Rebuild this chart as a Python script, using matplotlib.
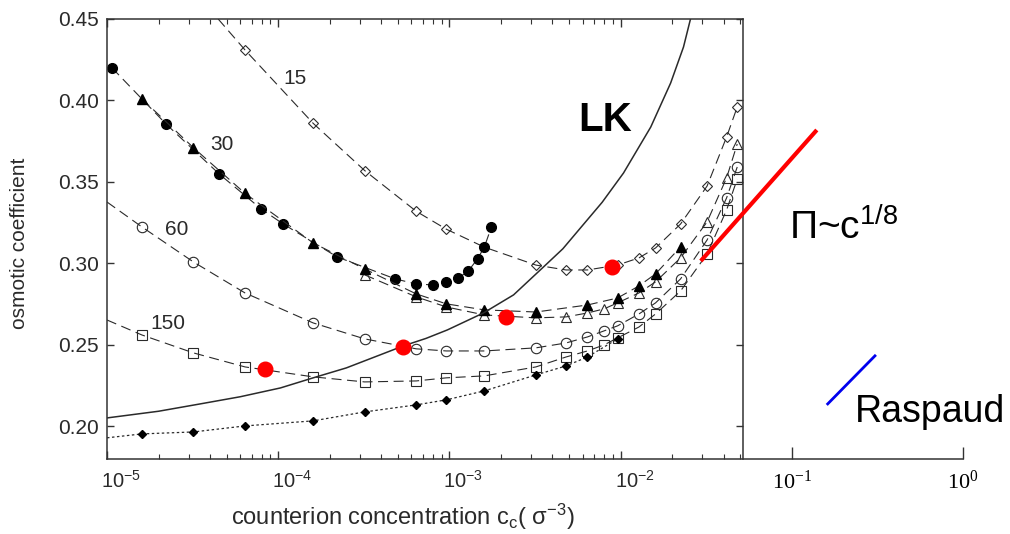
import matplotlib.pyplot as plt
import matplotlib.transforms as mtransforms
import numpy as np

# dados ----------------------------------------------------------------------------
# concentracoes comuns das simulacoes
c_grid = [1.6e-5, 3.2e-5, 6.4e-5, 1.6e-4, 3.2e-4, 6.4e-4, 9.6e-4, 1.6e-3, 3.2e-3, 4.8e-3,
          6.4e-3, 8.0e-3, 9.6e-3, 1.28e-2, 1.6e-2, 2.24e-2, 3.2e-2, 4.16e-2, 4.8e-2]

# 150 (quadrados)
phi_150 = [0.2561, 0.2451, 0.2365, 0.2304, 0.2273, 0.2279, 0.2298, 0.2310, 0.2365, 0.2426,
           0.2463, 0.2500, 0.2543, 0.2610, 0.2690, 0.2831, 0.3058, 0.3328, 0.3518]
# 60 (circulos abertos)
phi_60 = [0.3224, 0.3009, 0.2819, 0.2635, 0.2537, 0.2476, 0.2463, 0.2463, 0.2482, 0.2512,
          0.2549, 0.2586, 0.2617, 0.2690, 0.2758, 0.2905, 0.3144, 0.3402, 0.3592]

# 15 (losangos abertos)
c_15 = [6.4e-5, 1.6e-4, 3.2e-4, 6.4e-4, 9.6e-4, 1.6e-3, 3.2e-3, 4.8e-3, 6.4e-3, 9.6e-3,
        1.28e-2, 1.6e-2, 2.24e-2, 3.2e-2, 4.16e-2, 4.8e-2]
phi_15 = [0.431, 0.386, 0.357, 0.332, 0.321, 0.310, 0.299, 0.296, 0.296, 0.299,
          0.3034, 0.3095, 0.3242, 0.3475, 0.3776, 0.396]

# 30 (circulos cheios)
c_30a = [1.07e-5, 2.21e-5, 4.52e-5, 7.96e-5, 1.07e-4, 2.21e-4, 4.83e-4, 6.41e-4, 8.05e-4,
         9.6e-4, 1.13e-3, 1.29e-3, 1.46e-3, 1.6e-3, 1.76e-3]
phi_30a = [0.420, 0.3856, 0.3549, 0.3334, 0.3242, 0.304, 0.2905, 0.2874, 0.2868,
           0.2887, 0.2911, 0.2954, 0.3028, 0.3101, 0.3224]

# 30 (triangulos cheios)
c_30b = [1.6e-5, 3.2e-5, 6.4e-5, 1.6e-4, 3.2e-4, 6.4e-4, 9.6e-4, 1.6e-3, 3.2e-3, 6.4e-3,
         9.6e-3, 1.28e-2, 1.6e-2, 2.24e-2]
phi_30b = [0.401, 0.371, 0.343, 0.3126, 0.2966, 0.2813, 0.2752, 0.2715, 0.2702, 0.2745,
           0.2788, 0.2862, 0.2936, 0.3101]

# 30 (triangulos abertos)
c_30c = [3.2e-4, 6.4e-4, 9.6e-4, 1.6e-3, 3.2e-3, 4.8e-3, 6.4e-3, 8.0e-3, 9.6e-3, 1.28e-2,
         1.6e-2, 2.24e-2, 3.2e-2, 4.16e-2, 4.8e-2]
phi_30c = [0.293, 0.2795, 0.2733, 0.2684, 0.2666, 0.2672, 0.2696, 0.2721, 0.2758, 0.2819,
           0.2887, 0.3034, 0.3255, 0.3525, 0.3733]

# losangos cheios (pontilhado)
c_fd = [1.6e-5, 3.2e-5, 6.4e-5, 1.6e-4, 3.2e-4, 6.4e-4, 9.6e-4, 1.6e-3, 3.2e-3, 4.8e-3,
        6.4e-3, 9.6e-3]
phi_fd = [0.1954, 0.1966, 0.2003, 0.2034, 0.2089, 0.2132, 0.2163, 0.2218, 0.2316, 0.2371,
          0.2426, 0.2537]

# inicio das curvas na borda esquerda / superior
c_start = [1e-5, 1e-5, 1e-5, 4.46e-5]
phi_start = [0.2653, 0.3377, 0.193, 0.45]   # 150, 60, pontilhado, 15

# curva LK
c_lk = [1e-5, 2.0e-5, 3.5e-5, 6.0e-5, 1.03e-4, 1.6e-4, 2.5e-4, 3.94e-4, 5.38e-4, 7.3e-4,
        9.73e-4, 1.58e-3, 2.37e-3, 3.55e-3, 4.6e-3, 5.83e-3, 7.8e-3, 1.04e-2, 1.5e-2,
        1.96e-2, 2.33e-2, 2.56e-2]
phi_lk = [0.2052, 0.2093, 0.2138, 0.2182, 0.2236, 0.2298, 0.2359, 0.2439, 0.2494, 0.2540,
          0.2592, 0.2696, 0.2807, 0.2979, 0.3090, 0.3218, 0.3375, 0.3555, 0.3837,
          0.4107, 0.4328, 0.45]

# minimos (vermelho)
c_min = [8.4e-5, 5.38e-4, 2.15e-3, 8.85e-3]
phi_min = [0.2353, 0.2488, 0.2672, 0.2979]

# retas de inclinacao
c_red = [2.94e-2, 0.14]
phi_red = [0.3015, 0.3819]
c_blue = [0.16, 0.31]
phi_blue = [0.2132, 0.2439]

x_ticks = [1e-5, 1e-4, 1e-3, 1e-2, 1e-1, 1e0]
x_labels = [r'$\mathregular{10^{-5}}$', r'$\mathregular{10^{-4}}$', r'$\mathregular{10^{-3}}$',
            r'$\mathregular{10^{-2}}$', r'$\mathregular{10^{-1}}$', r'$\mathregular{10^{0}}$']
y_ticks = [0.20, 0.25, 0.30, 0.35, 0.40, 0.45]
x_edge = 0.0516   # borda direita da caixa original

# grafico ---------------------------------------------------------------------------
plt.rcParams['font.family'] = 'Liberation Sans'
cor = '#2a2a2a'

fig = plt.figure(figsize=(10.1, 5.34), dpi=100)
ax = fig.add_axes([107/1010, 75/534, 856/1010, 440/534])
ax.set_xscale('log')
ax.set_xlim(1e-5, 1)
ax.set_ylim(0.18, 0.45)

dash = (0, (9, 5))
lw = 0.8
ax.plot([c_start[0]] + c_grid, [phi_start[0]] + phi_150, color=cor, lw=lw, ls=dash,
        marker='s', ms=7, mfc='none', mec=cor, mew=0.8, markevery=list(range(1, 20)))
ax.plot([c_start[1]] + c_grid, [phi_start[1]] + phi_60, color=cor, lw=lw, ls=dash,
        marker='o', ms=7.5, mfc='none', mec=cor, mew=0.8, markevery=list(range(1, 20)))
ax.plot([c_start[3]] + c_15, [phi_start[3]] + phi_15, color=cor, lw=lw, ls=dash,
        marker='D', ms=4.6, mfc='none', mec=cor, mew=0.8, markevery=list(range(1, 17)))
ax.plot(c_30a, phi_30a, color=cor, lw=lw, ls=dash, marker='o', ms=7, mfc='black', mec='black')
ax.plot(c_30c, phi_30c, color=cor, lw=lw, ls=dash, marker='^', ms=7, mfc='none', mec=cor, mew=0.8)
ax.plot(c_30b, phi_30b, color=cor, lw=lw, ls=dash, marker='^', ms=6.5, mfc='black', mec='black')
ax.plot([c_start[2]] + c_fd, [phi_start[2]] + phi_fd, color=cor, lw=0.9, ls=(0, (2, 2)),
        marker='D', ms=4, mfc='black', mec='black', markevery=list(range(1, 13)))
ax.plot(c_lk, phi_lk, color=cor, lw=1.1)
ax.plot(c_min, phi_min, 'o', color='#ff0000', ms=10.5, zorder=5)
ax.plot(c_red, phi_red, color='#ff0000', lw=3, solid_capstyle='butt', clip_on=False, zorder=6)
ax.plot(c_blue, phi_blue, color='#0000ee', lw=2, solid_capstyle='butt', zorder=6)

# textos
ax.text(1.256e-4, 0.4132, '15', fontsize=15, color=cor, ha='center', va='center')
ax.text(4.71e-5, 0.3727, '30', fontsize=15, color=cor, ha='center', va='center')
ax.text(2.56e-5, 0.3206, '60', fontsize=15, color=cor, ha='center', va='center')
ax.text(2.28e-5, 0.2629, '150', fontsize=15, color=cor, ha='center', va='center')
ax.text(8.17e-3, 0.388, 'LK', fontsize=29, fontweight='bold', color='black', ha='center', va='center')
ax.text(0.096, 0.3144, r'$\mathregular{\Pi}$~c$^{\mathregular{1/8}}$', fontsize=28, color='black',
        ha='left', va='baseline')
ax.text(0.233, 0.2028, 'Raspaud', fontsize=27, color='black', ha='left', va='baseline')

# caixa: so ate x_edge
for s in ax.spines.values():
    s.set_color('#333333')
    s.set_linewidth(1.1)
ax.spines['top'].set_bounds(1e-5, x_edge)
ax.spines['right'].set_position(('data', x_edge))

ax.set_xticks(x_ticks, x_labels)
minors = [k * 10.0**n for n in range(-5, -1) for k in range(2, 10) if k * 10.0**n < x_edge]
ax.set_xticks(minors, minor=True)
ax.tick_params(axis='x', which='both', direction='in', top=True, colors='#333333', labelcolor=cor)
ax.tick_params(axis='x', which='major', length=6, width=1, labelsize=14.5, pad=8)
ax.tick_params(axis='x', which='minor', length=3.5, width=0.8)
ax.set_yticks(y_ticks, ['%.2f' % v for v in y_ticks])
ax.tick_params(axis='y', direction='in', left=True, right=True, length=5, width=1,
               colors='#333333', labelcolor=cor, labelsize=15, pad=6)

offset = mtransforms.ScaledTranslation(14/100, 0, fig.dpi_scale_trans)
for i, t in enumerate(ax.xaxis.get_major_ticks()):
    if x_ticks[i] > x_edge:
        t.tick2line.set_visible(False)
        t.tick1line.set_markersize(9)
        t.label1.set_fontfamily('Liberation Serif')
        t.label1.set_fontsize(16)
        t.label1.set_color('black')
    else:
        t.label1.set_transform(t.label1.get_transform() + offset)

ax.set_xlabel(r'counterion concentration c$_\mathregular{c}$( $\mathregular{\sigma^{-3}}$)',
              fontsize=17, color=cor)
ax.xaxis.set_label_coords(0.346, -0.098)
ax.set_ylabel('osmotic coefficient', fontsize=15, color=cor)
ax.yaxis.set_label_coords(-0.091, 0.49)

fig.savefig('out.png', dpi=100)
